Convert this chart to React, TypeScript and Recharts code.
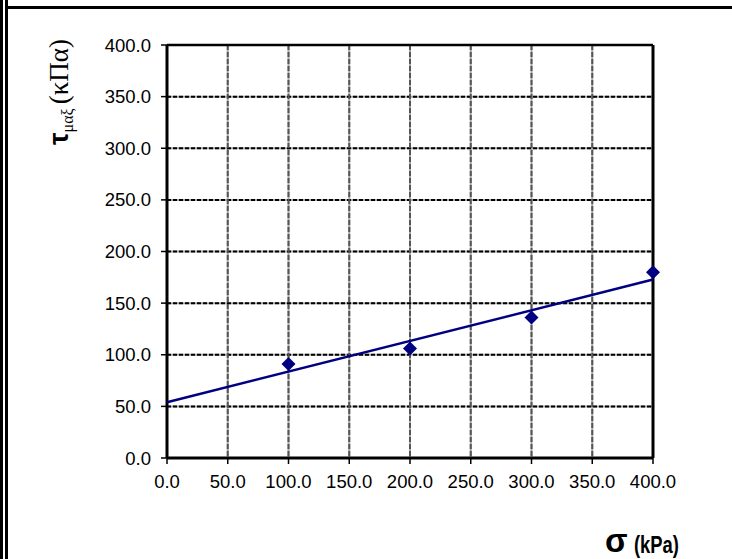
import { CartesianGrid, ReferenceLine, Scatter, ScatterChart, XAxis, YAxis } from 'recharts'

const xTicks = [0, 50, 100, 150, 200, 250, 300, 350, 400]
const yTicks = [0, 50, 100, 150, 200, 250, 300, 350, 400]

// measured points
const sigmaValues = [100, 200, 300, 400]
const tauValues = [91, 106, 136, 180]

// linear fit end points
const trendSigma = [0, 400]
const trendTau = [54.0, 172.8]

const NAVY = '#000080'
const FONT = "'Liberation Sans', Arial, sans-serif"
const SERIF = "'Liberation Serif', 'Times New Roman', serif"

const points = sigmaValues.map((x, i) => ({ x, y: tauValues[i] }))
const trend = trendSigma.map((x, i) => ({ x, y: trendTau[i] }))

function Diamond({ cx, cy }: { cx?: number; cy?: number }) {
  if (cx == null || cy == null) return <g />
  const r = 7
  return (
    <polygon
      points={`${cx},${cy - r} ${cx + r},${cy} ${cx},${cy + r} ${cx - r},${cy}`}
      fill={NAVY}
    />
  )
}

const NoShape = () => <g />

function YTitle() {
  return (
    <text transform="translate(68, 92) rotate(-90)" textAnchor="middle" fill="#000">
      <tspan fontFamily={FONT} fontWeight="bold" fontSize={28}>τ</tspan>
      <tspan fontFamily={SERIF} fontSize={16} dy={5}>
        μαξ
      </tspan>
      <tspan fontFamily={SERIF} fontSize={27} dy={-5} dx={4}>
        (κΠα)
      </tspan>
    </text>
  )
}

function XTitle() {
  return (
    <g fill="#000">
      <text x={605} y={552} fontFamily={FONT} fontWeight="bold" fontSize={33}>
        σ
      </text>
      <text
        transform="translate(634, 553) scale(0.8, 1)"
        fontFamily={FONT}
        fontWeight="bold"
        fontSize={23}
      >
        (kPa)
      </text>
    </g>
  )
}

export default function App() {
  return (
    <div style={{ position: 'absolute', left: 0, top: 0, width: 732, height: 559, background: '#fff' }}>
      <div
        style={{
          position: 'absolute',
          left: 0,
          top: 0,
          width: 0,
          height: 559,
          borderLeft: '8px double #000',
        }}
      />
      <div style={{ position: 'absolute', left: 5, top: 6, width: 727, height: 3, background: '#000' }} />
      <ScatterChart width={732} height={559} margin={{ top: 45, right: 79, left: 0, bottom: 0 }}>
        <CartesianGrid stroke="#a8a8a8" strokeWidth={2} />
        <CartesianGrid vertical={false} stroke="#000" strokeWidth={2} strokeDasharray="4 2" />
        <CartesianGrid horizontal={false} stroke="#555" strokeWidth={2} strokeDasharray="5 2" />
        <XAxis
          type="number"
          dataKey="x"
          domain={[0, 400]}
          ticks={xTicks}
          interval={0}
          height={101}
          tickSize={6}
          tickMargin={11}
          tickFormatter={(v) => Number(v).toFixed(1)}
          tick={{ fill: '#000', fontSize: 18.5, fontFamily: FONT }}
          axisLine={{ stroke: '#000', strokeWidth: 3 }}
          tickLine={{ stroke: '#000', strokeWidth: 1.5 }}
          label={{ content: () => <XTitle /> }}
        />
        <YAxis
          type="number"
          dataKey="y"
          domain={[0, 400]}
          ticks={yTicks}
          interval={0}
          width={167}
          tickSize={6}
          tickMargin={10}
          tickFormatter={(v) => Number(v).toFixed(1)}
          tick={{ fill: '#000', fontSize: 18.5, fontFamily: FONT }}
          axisLine={{ stroke: '#000', strokeWidth: 3 }}
          tickLine={{ stroke: '#000', strokeWidth: 1.5 }}
          label={{ content: () => <YTitle /> }}
        />
        <ReferenceLine y={400} stroke="#000" strokeWidth={2.5} />
        <ReferenceLine x={400} stroke="#000" strokeWidth={3} />
        <Scatter
          data={trend}
          line={{ stroke: NAVY, strokeWidth: 2.5 }}
          shape={NoShape}
          isAnimationActive={false}
        />
        <Scatter data={points} shape={<Diamond />} isAnimationActive={false} />
      </ScatterChart>
    </div>
  )
}
